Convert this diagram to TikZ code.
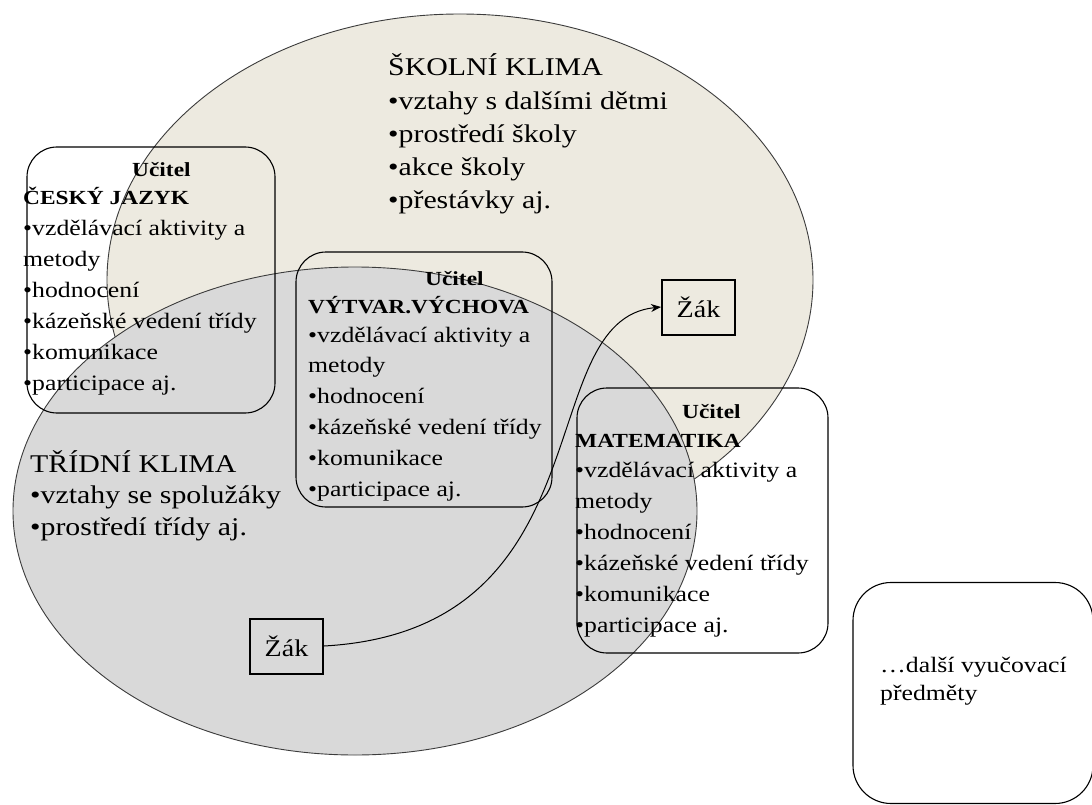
\documentclass[tikz,border=0pt]{standalone}
\usepackage{fontspec}
\setmainfont{Liberation Serif}[FakeStretch=1.17]
\usetikzlibrary{arrows.meta}
\definecolor{beige}{RGB}{237,234,224}
\definecolor{lgray}{RGB}{217,217,217}
\definecolor{edge}{RGB}{60,60,60}
\tikzset{
  txt/.style={inner sep=0pt, anchor=base west, font=\fontsize{22}{26}\selectfont},
  hd/.style={inner sep=0pt, anchor=base west, font=\bfseries\fontsize{20}{24}\selectfont},
  big/.style={inner sep=0pt, anchor=base west, font=\fontsize{25.5}{30}\selectfont},
  tbox/.style={draw=black, line width=1.1pt, rounded corners=30pt, inner sep=0pt},
  zak/.style={draw=black, line width=2pt, inner sep=0pt, minimum width=73pt, minimum height=55pt, font=\fontsize{24}{28}\selectfont},
  ell/.style={draw=edge, line width=0.9pt}
}
\begin{document}
\begin{tikzpicture}[x=1pt,y=-1pt]
\useasboundingbox (0,0) rectangle (1092,805);
\fill[white] (0,0) rectangle (1092,805);
% ellipses
\draw[ell, fill=beige] (460,280) ellipse [x radius=353pt, y radius=266pt];
\draw[ell, fill=lgray] (355,511) ellipse [x radius=342pt, y radius=244pt];
% boxes
\node[tbox, minimum width=248pt, minimum height=266pt] (czbox) at (151,280) {};
\node[tbox, minimum width=256pt, minimum height=255pt] (vvbox) at (424,379.5) {};
\node[tbox, minimum width=251pt, minimum height=265pt] (mabox) at (702.5,520.5) {};
\begin{scope}
\clip (0,0) rectangle (1092,805);
\node[tbox, rounded corners=38pt, minimum width=240pt, minimum height=221pt] (dabox) at (973,693) {};
\end{scope}
% school climate
\node[big] (sk0) at (388,76) {ŠKOLNÍ KLIMA};
\node[big] (sk1) at (388,110) {•vztahy s dalšími dětmi};
\node[big] (sk2) at (388,143) {•prostředí školy};
\node[big] (sk3) at (388,176) {•akce školy};
\node[big] (sk4) at (388,209) {•přestávky aj.};
% class climate
\node[big] (tk0) at (30,472) {TŘÍDNÍ KLIMA};
\node[big] (tk1) at (30,503) {•vztahy se spolužáky};
\node[big] (tk2) at (30,535) {•prostředí třídy aj.};
% Czech
\node[hd] (cz0) at (132,177) {Učitel};
\node[hd] (cz1) at (23,205) {ČESKÝ JAZYK};
\node[txt] (cz2) at (23,236) {•vzdělávací aktivity a};
\node[txt] (cz3) at (23,266) {metody};
\node[txt] (cz4) at (23,297) {•hodnocení};
\node[txt] (cz5) at (23,328) {•kázeňské vedení třídy};
\node[txt] (cz6) at (23,359) {•komunikace};
\node[txt] (cz7) at (23,390) {•participace aj.};
% Art
\node[hd] (vv0) at (425,285) {Učitel};
\node[hd] (vv1) at (308,313) {VÝTVAR.VÝCHOVA};
\node[txt] (vv2) at (308,342) {•vzdělávací aktivity a};
\node[txt] (vv3) at (308,372) {metody};
\node[txt] (vv4) at (308,403) {•hodnocení};
\node[txt] (vv5) at (308,434) {•kázeňské vedení třídy};
\node[txt] (vv6) at (308,465) {•komunikace};
\node[txt] (vv7) at (308,496) {•participace aj.};
% Math
\node[hd] (ma0) at (682,418) {Učitel};
\node[hd] (ma1) at (575,447) {MATEMATIKA};
\node[txt] (ma2) at (575,477) {•vzdělávací aktivity a};
\node[txt] (ma3) at (575,508) {metody};
\node[txt] (ma4) at (575,539) {•hodnocení};
\node[txt] (ma5) at (575,570) {•kázeňské vedení třídy};
\node[txt] (ma6) at (575,601) {•komunikace};
\node[txt] (ma7) at (575,632) {•participace aj.};
% other subjects
\node[txt] (da1) at (880,672) {…další vyučovací};
\node[txt] (da2) at (880,700) {předměty};
% pupils
\node[zak] (zak1) at (286.5,646) {Žák};
\node[zak] (zak2) at (698.5,307) {Žák};
\draw[line width=1pt, -{Stealth[length=10pt,width=8pt]}] (zak1.east) .. controls (610,630) and (530,320) .. (zak2.west);
\end{tikzpicture}
\end{document}
